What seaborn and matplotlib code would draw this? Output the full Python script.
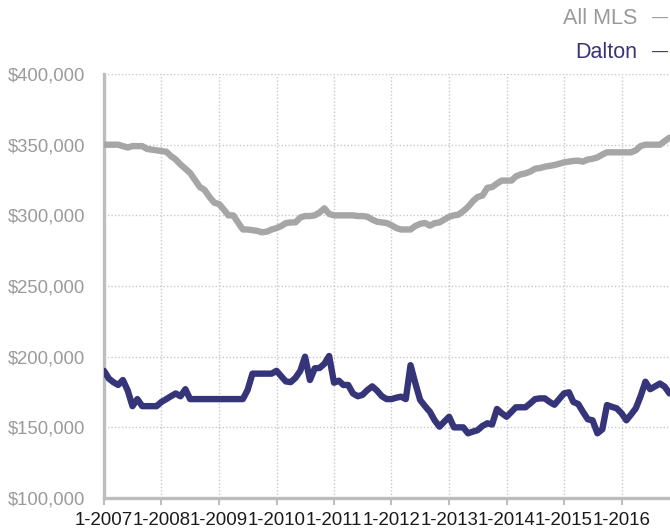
import pandas as pd
import numpy as np
import matplotlib.pyplot as plt
import seaborn as sns

# -- Data (monthly median price, $k) ---------------------------
all_mls = [
    350, 350, 350, 350, 349, 348, 349, 349, 349, 347,
    346.5, 346, 345.5, 345, 342, 339.5, 336, 333, 330, 325,
    320, 318, 313, 309, 308, 304, 300, 300, 295, 290,
    290, 289.5, 289, 288, 288.5, 290, 291, 292.5, 294.5, 295,
    295, 298.5, 299.5, 299.5, 300, 302, 305, 301, 300, 300,
    300, 300, 300, 299.5, 299.5, 299, 297, 295.5, 295, 294.6,
    293, 291, 290, 290, 290, 292.5, 294, 294.6, 292.7, 294.5,
    295, 297, 299, 300, 300.5, 303, 306, 310, 313, 314,
    319.5, 320, 322.5, 324.6, 324.6, 324.6, 327.5, 329, 329.7, 331,
    333, 333.5, 334.4, 335, 335.6, 336.5, 337.5, 338, 338.5, 338.7,
    338, 339.5, 340, 341, 343, 344.6, 344.6, 344.6, 344.6, 344.6,
    344.6, 346, 349, 350, 350, 350, 350, 352.5, 355,
]
dalton = [
    190, 184.5, 182, 180, 183.5, 176, 165, 170, 165, 165,
    165, 165, 168, 170, 172, 174, 172, 177, 170, 170,
    170, 170, 170, 170, 170, 170, 170, 170, 170, 170,
    176.4, 188, 188, 188, 188, 188, 190, 186, 182.5, 182,
    185, 190, 200, 183.5, 191.8, 192, 195, 200.5, 181.6, 183,
    180, 180, 174, 172, 173, 176.4, 179, 176, 172, 170,
    170, 171, 171.7, 170, 194, 181, 169.4, 165, 161, 155,
    150.5, 154, 157.5, 150, 150, 150, 145.8, 147, 148, 151,
    152.9, 152, 163, 160, 157.5, 161, 164.2, 164.2, 164.2, 167,
    170, 170.5, 170.5, 168, 166, 170, 174, 174.8, 168, 166.5,
    161, 155.7, 155, 145.8, 148.6, 165.8, 164.5, 163.5, 160, 155,
    159, 163.5, 172, 182.3, 177, 179, 181, 178.8, 174,
]
tick_labels = ["1-2007", "1-2008", "1-2009", "1-2010", "1-2011",
               "1-2012", "1-2013", "1-2014", "1-2015", "1-2016"]
y_ticks = [100000, 150000, 200000, 250000, 300000, 350000, 400000]

GRAY = "#a6a6a6"
NAVY = "#36357a"

dates = pd.date_range("2007-01-01", periods=len(all_mls), freq="MS")
df = pd.concat([
    pd.DataFrame({"date": dates, "price": np.array(all_mls) * 1000, "market": "All MLS"}),
    pd.DataFrame({"date": dates, "price": np.array(dalton) * 1000, "market": "Dalton"}),
])

sns.set_theme(style="white")
plt.rcParams["font.family"] = ["Liberation Sans", "DejaVu Sans"]

fig = plt.figure(figsize=(6.7, 5.31), dpi=100)
ax = fig.add_axes([0.1552, 0.0621, 0.8448, 0.7985])

sns.lineplot(data=df, x="date", y="price", hue="market",
             palette={"All MLS": GRAY, "Dalton": NAVY},
             linewidth=4.6, legend=False, ax=ax, zorder=3)

tick_pos = pd.to_datetime([f"{lbl.split('-')[1]}-01-01" for lbl in tick_labels])
ax.set_xticks(tick_pos)
ax.set_xticklabels(tick_labels, fontsize=13.4, color="#1a1a1a")
ax.set_yticks(y_ticks)
ax.set_yticklabels([f"${v:,.0f}" for v in y_ticks], fontsize=13.3, color="#9a9a9a")
ax.set_xlim(dates[0], dates[-1] + pd.Timedelta(days=3))
ax.set_ylim(100000, 400000)
ax.set_xlabel("")
ax.set_ylabel("")

ax.grid(True, linestyle=(0, (1, 1.5)), color="#c8c8c8", linewidth=1)
for s in ["top", "right"]:
    ax.spines[s].set_visible(False)
for s in ["left", "bottom"]:
    ax.spines[s].set_color("#bdbdbd")
    ax.spines[s].set_linewidth(2.4)
ax.tick_params(axis="x", length=5, width=1.5, color="#bdbdbd", pad=5, bottom=True)
ax.tick_params(axis="y", length=0, pad=13.5)

# legend drawn as text at the top right
fig.text(637 / 670, 1 - 18 / 531, "All MLS", ha="right", va="center",
         fontsize=15.5, color="#9a9a9a")
fig.text(660 / 670, 1 - 18 / 531, "\u2014", ha="center", va="center",
         fontsize=11.5, color="#9a9a9a")
fig.text(637 / 670, 1 - 52 / 531, "Dalton", ha="right", va="center",
         fontsize=15.5, color=NAVY)
fig.text(660 / 670, 1 - 52 / 531, "\u2014", ha="center", va="center",
         fontsize=11.5, color=NAVY)

fig.savefig("out.png", dpi=100)
